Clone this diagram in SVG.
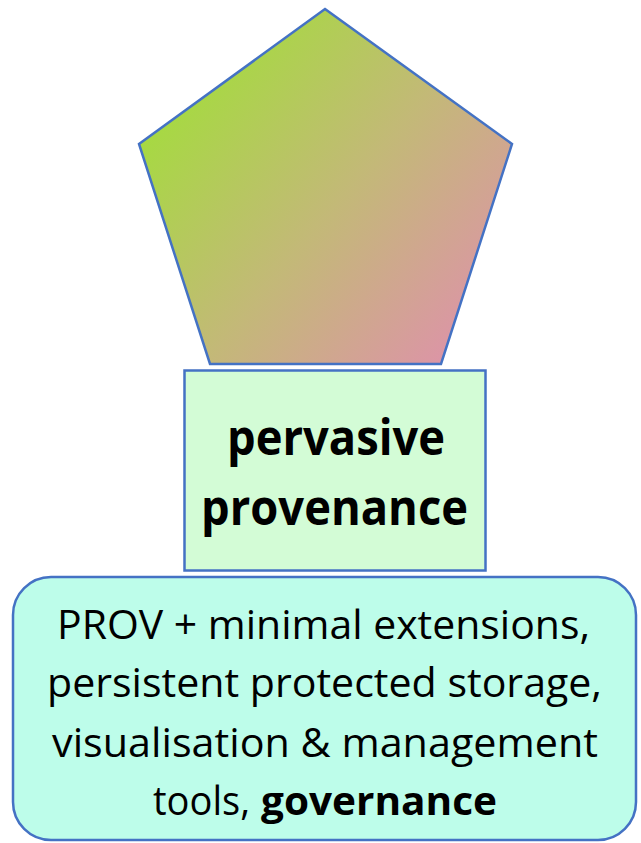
<svg xmlns="http://www.w3.org/2000/svg" width="641" height="843" viewBox="0 0 641 843">
<defs>
<linearGradient id="pg" x1="139" y1="100" x2="470" y2="380" gradientUnits="userSpaceOnUse">
<stop offset="0" stop-color="#A2DE3A"/>
<stop offset="0.5" stop-color="#C3B977"/>
<stop offset="1" stop-color="#E08FAE"/>
</linearGradient>
<style>
.edge{stroke:#4472C4;stroke-width:2.5}
.bt{font-family:"Open Sans","Noto Sans","Liberation Sans",sans-serif;font-weight:bold;font-size:50px;fill:#000;text-anchor:start}
.rt{font-family:"Open Sans","Noto Sans","Liberation Sans",sans-serif;font-size:40px;fill:#000;text-anchor:start}
</style>
</defs>
<rect width="641" height="843" fill="#FFFFFF"/>
<g id="pentagon">
<polygon class="edge" stroke-width="3" points="325,9 512,144 441,364 210,364 139,144" fill="url(#pg)"/>
</g>
<g id="pervasive-provenance">
<rect class="edge" x="184.5" y="370.5" width="301" height="200" fill="#D3FCD6"/>
<text class="bt" x="227" y="455" textLength="218" lengthAdjust="spacingAndGlyphs">pervasive</text>
<text class="bt" x="201" y="525" textLength="267" lengthAdjust="spacingAndGlyphs">provenance</text>
</g>
<g id="foundation">
<rect class="edge" x="13" y="577" width="623" height="263" rx="38" ry="38" fill="#BDFDEA"/>
<text class="rt" x="57" y="639" textLength="533" lengthAdjust="spacingAndGlyphs">PROV + minimal extensions,</text>
<text class="rt" x="47" y="697" textLength="555" lengthAdjust="spacingAndGlyphs">persistent protected storage,</text>
<text class="rt" x="52" y="757" textLength="546" lengthAdjust="spacingAndGlyphs">visualisation &amp; management</text>
<text class="rt" x="153" y="815" textLength="97" lengthAdjust="spacingAndGlyphs">tools,</text>
<text class="rt" x="261" y="815" textLength="236" lengthAdjust="spacingAndGlyphs" font-weight="bold">governance</text>
</g>
<g id="connectors"></g>
</svg>
